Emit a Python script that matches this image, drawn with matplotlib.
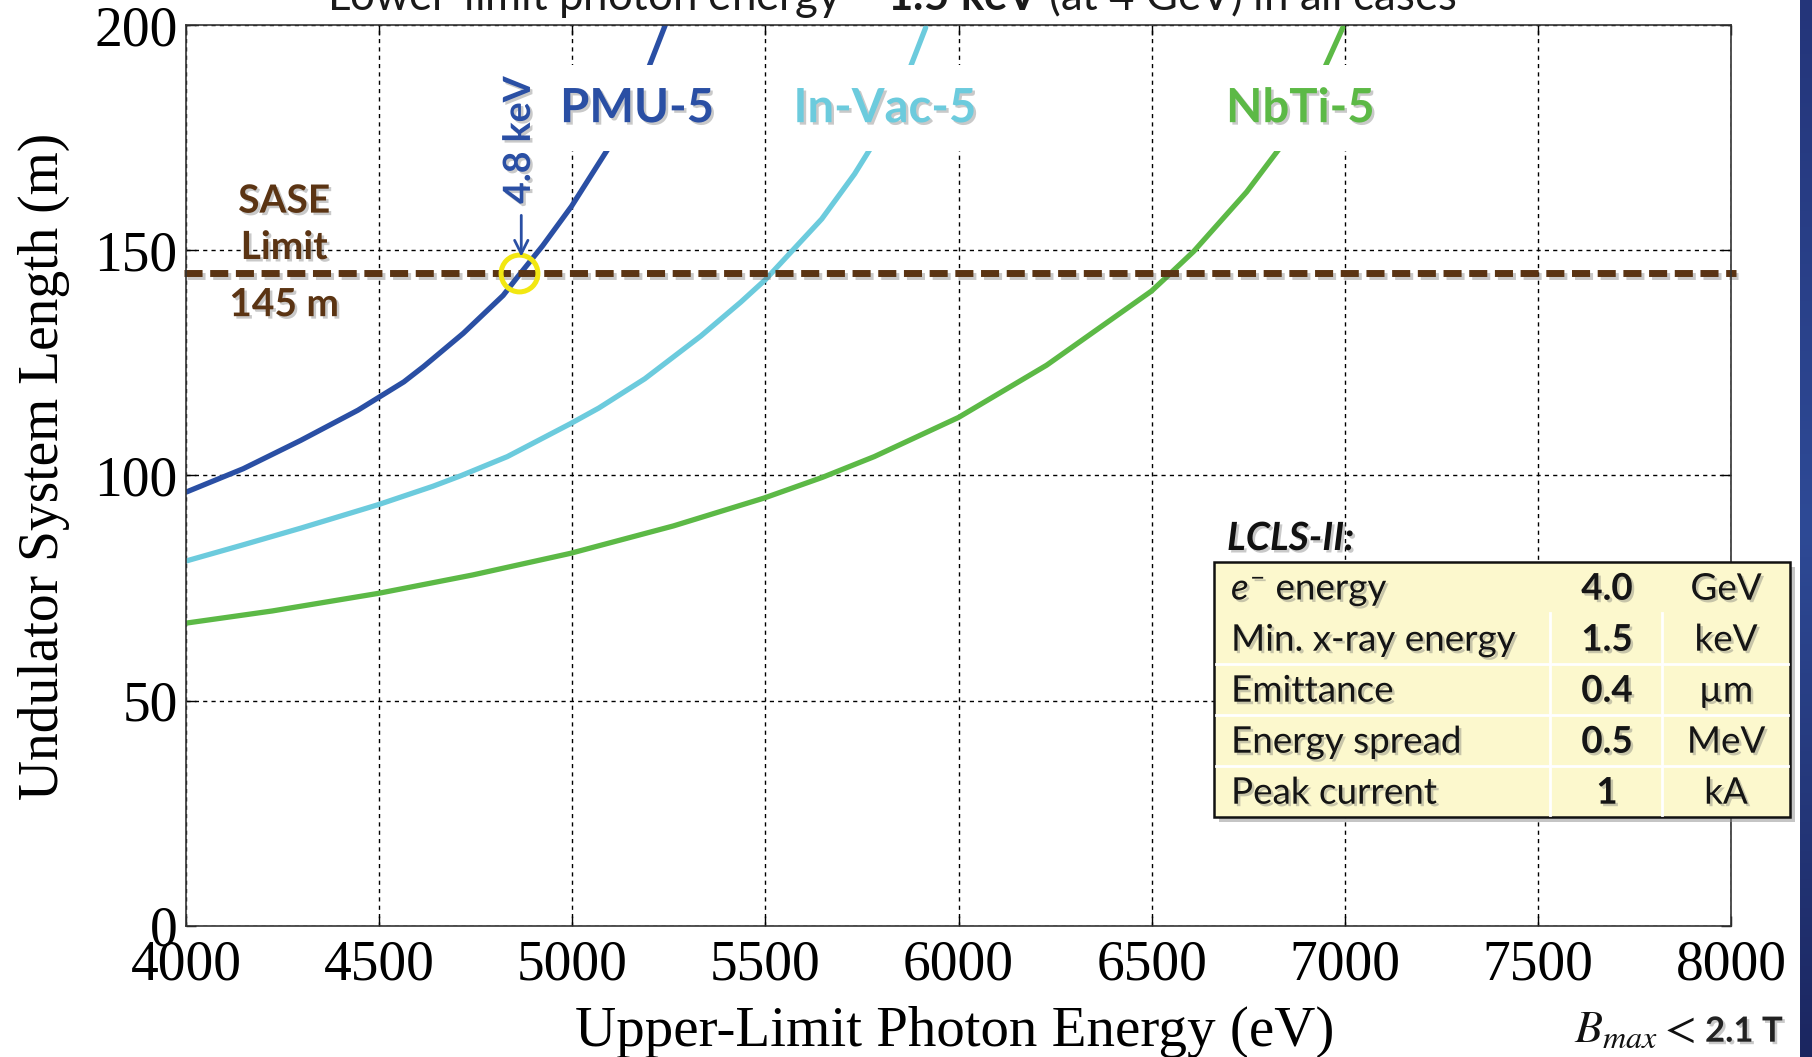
import numpy as np
import matplotlib.pyplot as plt
import matplotlib.patheffects as pe
from matplotlib.patches import Rectangle
from matplotlib.lines import Line2D
from matplotlib.colors import LinearSegmentedColormap

plt.rcParams['mathtext.fontset'] = 'custom'
plt.rcParams['mathtext.rm'] = 'Lato'
plt.rcParams['mathtext.it'] = 'Lato:italic'
plt.rcParams['mathtext.bf'] = 'Lato:bold'

# undulator system length (m) vs upper-limit photon energy (eV)
pmu_ev = [4000, 4148, 4297, 4445, 4564, 4615, 4718, 4821, 4862, 4923, 4998, 5103, 5195, 5245]
pmu_len = [96.3, 101.5, 107.8, 114.5, 120.8, 124.2, 131.6, 140.0, 144.5, 151.0, 159.8, 174.0, 190.0, 201]

invac_ev = [4000, 4148, 4297, 4497, 4639, 4713, 4832, 4995, 5069, 5188, 5333, 5436, 5500,
            5646, 5731, 5789, 5863, 5915]
invac_len = [81.0, 84.6, 88.3, 93.5, 97.6, 100.0, 104.2, 111.5, 115.0, 121.5, 131.0, 138.5, 143.5,
             157.0, 167.0, 175.0, 188.0, 199.5]

nbti_ev = [4000, 4223, 4497, 4742, 4995, 5262, 5497, 5648, 5782, 6000, 6228, 6500, 6535,
           6609, 6746, 6847, 6937, 6995]
nbti_len = [67.2, 69.9, 73.8, 77.9, 82.7, 88.8, 95.0, 99.6, 104.2, 112.9, 124.5, 141.0, 143.8,
            149.8, 163.0, 174.5, 188.5, 199.5]

sase_limit = 145
pmu_cross_ev = 4862

table_names = ['$\\mathit{e}^{-}$ energy', 'Min. x-ray energy', 'Emittance', 'Energy spread', 'Peak current']
table_vals = ['4.0', '1.5', '0.4', '0.5', '1']
table_units = ['GeV', 'keV', '\u00b5m', 'MeV', 'kA']

xticks = [4000, 4500, 5000, 5500, 6000, 6500, 7000, 7500, 8000]
yticks = [0, 50, 100, 150, 200]

c_pmu = '#2a4fa4'
c_invac = '#6ccbdd'
c_nbti = '#5cb946'
c_brown = '#5b3413'
c_yellow = '#f2e712'

W, H = 1812, 1057
fig = plt.figure(figsize=(W / 100, H / 100), dpi=100)


def fx(p):
    return p / W


def fy(p):
    return 1 - p / H


shadow = [pe.SimplePatchShadow(offset=(1.8, -1.8), shadow_rgbFace='0.4', alpha=0.35), pe.Normal()]

ax = fig.add_axes([fx(186), fy(925.6), fx(1731) - fx(186), fy(25.4) - fy(925.6)])
ax.set_xlim(4000, 8000)
ax.set_ylim(0, 200)
ax.set_xticks(xticks)
ax.set_yticks(yticks)
ax.grid(True, color='k', linestyle=(0, (3, 3)), linewidth=1.0)
ax.set_axisbelow(True)
ax.tick_params(direction='in', length=7, width=1, top=True, right=True,
               labelsize=40, pad=6)
ax.tick_params(axis='x', pad=10)
for lab in ax.get_xticklabels() + ax.get_yticklabels():
    lab.set_family('Liberation Serif')
for sp in ax.spines.values():
    sp.set_linewidth(1.2)
    sp.set_color('#333333')

ax.set_xlabel('Upper-Limit Photon Energy (eV)', family='Liberation Serif', fontsize=41)
ax.set_ylabel('Undulator System Length (m)', family='Liberation Serif', fontsize=40)
ax.xaxis.set_label_coords(0.4977, -0.089)
ax.yaxis.set_label_coords(-0.075, 0.51)

line_kw = dict(lw=3.8, zorder=2, solid_joinstyle='round', solid_capstyle='round')
ax.plot(pmu_ev, pmu_len, color=c_pmu, **line_kw)
ax.plot(invac_ev, invac_len, color=c_invac, **line_kw)
ax.plot(nbti_ev, nbti_len, color=c_nbti, **line_kw)

# SASE length limit
ax.plot([3995, 8012], [sase_limit, sase_limit], color=c_brown, lw=5,
        linestyle=(0, (2.6, 1.1)), clip_on=False, zorder=2.5,
        path_effects=[pe.SimpleLineShadow(offset=(2, -2.5), shadow_color='0.3', alpha=0.3), pe.Normal()])

ax.plot([pmu_cross_ev], [sase_limit], marker='o', ms=26.5, mfc='none', mec=c_yellow, mew=3.6,
        zorder=4)
ax.annotate('', xy=(pmu_cross_ev + 6, 148.6), xytext=(pmu_cross_ev + 6, 157.8),
            arrowprops=dict(arrowstyle='->', color=c_pmu, lw=2, mutation_scale=24,
                            shrinkA=0, shrinkB=0), zorder=4)
ax.text(pmu_cross_ev, 174.5, '4.8 keV', rotation=90, ha='center', va='center',
        family='Lato', weight='bold', fontsize=27, color=c_pmu, path_effects=shadow, zorder=4)

box = dict(facecolor='white', edgecolor='none', boxstyle='square,pad=0.45')
for name, xe, col in [('PMU-5', 5168, c_pmu), ('In-Vac-5', 5810, c_invac), ('NbTi-5', 6885, c_nbti)]:
    ax.text(xe, 178.5, name, ha='center', va='baseline', family='Lato', weight='bold',
            fontsize=34, color=col, bbox=box, path_effects=shadow, zorder=3)

for txt, yy in [('SASE', 158.4), ('Limit', 148.1), ('145 m', 135.4)]:
    ax.text(4254, yy, txt, ha='center', va='baseline', family='Lato', weight='bold',
            fontsize=28, color=c_brown, path_effects=shadow, zorder=3)

# title, clipped at the top edge of the slide
fig.text(0.492, fy(10), 'Lower-limit photon energy = $\\mathbf{1.5\\ keV}$ (at 4 GeV) in all cases',
         ha='center', va='baseline', family='Lato', fontsize=31.5, color='#1a1a1a')

# parameter table
tl, tr, tt, tb = 1213.6, 1790, 561.7, 816.7
rh = (tb - tt) / len(table_names)
fig.add_artist(Rectangle((fx(tl + 5), fy(tb + 5)), fx(tr - tl), fy(tt) - fy(tb),
                         transform=fig.transFigure, facecolor='0.55', alpha=0.5,
                         edgecolor='none', zorder=4))
fig.add_artist(Rectangle((fx(tl), fy(tb)), fx(tr - tl), fy(tt) - fy(tb),
                         transform=fig.transFigure, facecolor='#fcf8cd',
                         edgecolor='#111111', lw=1.8, zorder=5))
for i in range(2, len(table_names)):
    yy = fy(tt + i * rh)
    fig.add_artist(Line2D([fx(tl + 2), fx(tr - 2)], [yy, yy], transform=fig.transFigure,
                          color='white', lw=2, zorder=6))
for xs in [1549.7, 1662.4]:
    fig.add_artist(Line2D([fx(xs), fx(xs)], [fy(tt + rh), fy(tb - 2)], transform=fig.transFigure,
                          color='white', lw=2, zorder=6))
for i, (name, val, unit) in enumerate(zip(table_names, table_vals, table_units)):
    yb = fy(tt + rh * (i + 0.5) + 12.5)
    fig.text(fx(1231), yb, name, ha='left', va='baseline', family='Lato', fontsize=26.5,
             color='#151515', path_effects=shadow, zorder=7)
    fig.text(fx(1607), yb, val, ha='center', va='baseline', family='Lato', weight='bold',
             fontsize=26.5, color='#151515', path_effects=shadow, zorder=7)
    fig.text(fx(1726), yb, unit, ha='center', va='baseline', family='Lato', fontsize=26.5,
             color='#151515', path_effects=shadow, zorder=7)
fig.text(fx(1227), fy(550), 'LCLS-II:', ha='left', va='baseline', family='Lato', weight='bold',
         style='italic', fontsize=28, color='#111111', path_effects=shadow, zorder=7)

# field note, bottom right
fig.text(fx(1695), fy(1041.7), '$B_{max} <$', ha='right', va='baseline', fontsize=33,
         math_fontfamily='stix', color='#111111')
fig.text(fx(1705), fy(1041.7), '2.1 T', ha='left', va='baseline', family='Lato', weight='bold',
         fontsize=25, color='#222222', path_effects=shadow)

# slide edge bar
bar = fig.add_axes([fx(1800), 0, fx(12), 1])
grad = LinearSegmentedColormap.from_list('edge', ['#1b2660', '#2e4a96', '#24357a'])
bar.imshow(np.linspace(0, 1, 256).reshape(-1, 1), aspect='auto', cmap=grad, origin='lower')
bar.set_axis_off()

fig.savefig('out.png', dpi=100)
